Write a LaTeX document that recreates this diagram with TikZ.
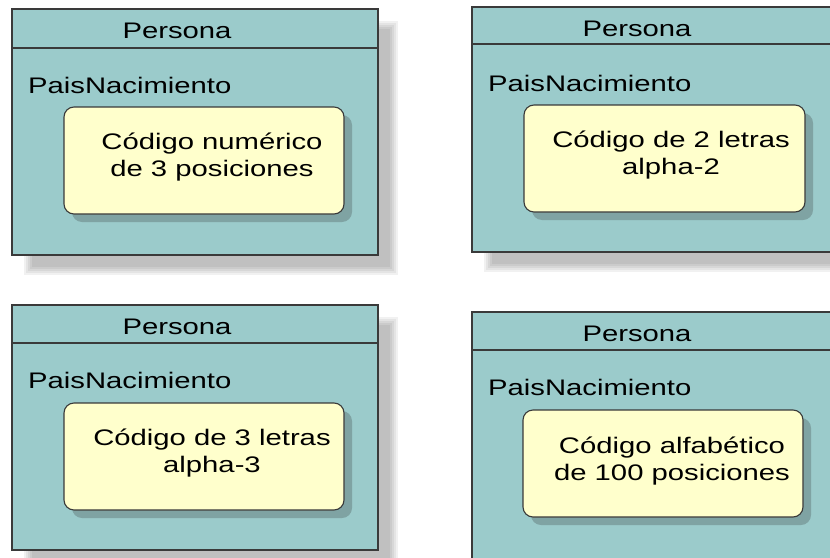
\documentclass[tikz,border=0pt]{standalone}
\usepackage{fontspec}
\setmainfont{Liberation Sans}[FakeStretch=1.3]
\definecolor{teal1}{HTML}{9BCBCB}
\definecolor{yel1}{HTML}{FFFFCC}
\definecolor{edge1}{HTML}{3A3A3A}
\definecolor{ishadow}{HTML}{7FA3A3}
\tikzset{
  outerbox/.style={fill=teal1, draw=edge1, line width=1.3pt},
  innerbox/.style={fill=yel1, draw=edge1, line width=1.1pt, rounded corners=10pt},
  txt/.style={inner sep=0pt, font=\fontsize{22.5}{27}\selectfont, text=black},
  ctxt/.style={txt, align=center},
}
\newcommand\softshadow[4]{%
  \foreach \k in {0,1,2,3,4}{%
    \fill[black, opacity=0.055] ({#1-4+\k*2},{#2-4+\k*2}) rectangle ({#3+4-\k*2},{#4+4-\k*2});
  }%
}
\newcommand\pbox[9]{%
  \softshadow{#1+16}{#2+16}{#3+16}{#4+16}
  \draw[outerbox] (#1,#2) rectangle (#3,#4);
  \draw[edge1, line width=1.1pt] (#1,#5) -- (#3,#5);
  \fill[ishadow] ({#6+8},{#7+8}) [rounded corners=10pt] rectangle ({#8+8},{#9+8});
  \draw[innerbox] (#6,#7) rectangle (#8,#9);
}
\begin{document}
\begin{tikzpicture}[x=1pt,y=-1pt]
\useasboundingbox (0,0) rectangle (830,557);
\clip (0,0) rectangle (830,557);
% top-left
\pbox{12}{9}{378}{255}{48}{64}{107}{344}{214}
\node[txt] (p1) at (177,31) {Persona};
\node[txt, anchor=west] (n1) at (28,85) {PaisNacimiento};
\node[ctxt] (c1) at (212,157) {Código numérico\\de 3 posiciones};
% top-right
\pbox{472}{7}{845}{252}{44}{524}{105}{805}{212}
\node[txt] (p2) at (637,29) {Persona};
\node[txt, anchor=west] (n2) at (488,83) {PaisNacimiento};
\node[ctxt] (c2) at (671,155) {Código de 2 letras\\alpha-2};
% bottom-left
\pbox{12}{305}{378}{550}{343}{64}{403}{344}{510}
\node[txt] (p3) at (177,327) {Persona};
\node[txt, anchor=west] (n3) at (28,380) {PaisNacimiento};
\node[ctxt] (c3) at (212,453) {Código de 3 letras\\alpha-3};
% bottom-right
\pbox{472}{312}{845}{575}{350}{523}{410}{803}{517}
\node[txt] (p4) at (637,334) {Persona};
\node[txt, anchor=west] (n4) at (488,387) {PaisNacimiento};
\node[ctxt] (c4) at (672,461) {Código alfabético\\de 100 posiciones};
\end{tikzpicture}
\end{document}
